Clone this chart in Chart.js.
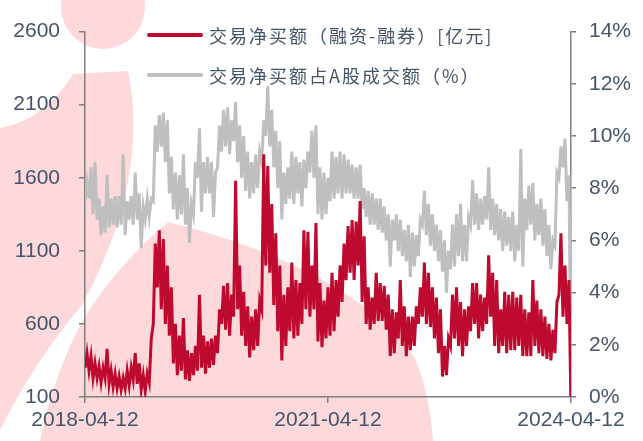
<!DOCTYPE html>
<html>
<head>
<meta charset="utf-8">
<script src="https://cdn.jsdelivr.net/npm/chart.js@4.4.1/dist/chart.umd.min.js"></script>
<style>
  html, body { margin: 0; padding: 0; background: #fff; }
  #wrap { width: 643px; height: 441px; }
</style>
</head>
<body>
<div id="wrap"><canvas id="chart" width="643" height="441"></canvas></div>
<script>
// ---- data (2018-04-12 .. 2024-04-12) ----
// the daily series is too dense to read day by day, so each period is
// given as the low / high of the band the line covers in that period
const dateTicks = ['2018-04-12', '2021-04-12', '2024-04-12'];
const seriesNames = ['交易净买额（融资-融券）[亿元]', '交易净买额占A股成交额（%）'];

// net buy amount, 亿元 (left axis)
const netBuyLow = [
    300, 280, 230, 230, 200, 230, 190, 170, 160, 150, 160, 180, 220, 190, 150, 140,
    200, 600, 850, 700, 600, 520, 330, 250, 280, 220, 210, 250, 280, 300, 260, 300,
    320, 400, 600, 560, 520, 650, 700, 520, 450, 370, 420, 450, 700, 1000, 950, 730,
    550, 350, 450, 550, 500, 520, 600, 700, 650, 700, 480, 440, 500, 520, 550, 650,
    750, 900, 950, 900, 1000, 750, 600, 560, 600, 620, 620, 560, 380, 400, 500, 450,
    380, 420, 450, 600, 650, 600, 580, 500, 400, 240, 250, 450, 500, 450, 380, 450,
    550, 600, 500, 550, 600, 650, 450, 400, 450, 400, 420, 420, 450, 380, 380, 380,
    450, 400, 380, 360, 350, 400, 800, 650, 600, 0
];
const netBuyHigh = [
    400, 380, 330, 310, 300, 430, 280, 260, 240, 230, 280, 300, 400, 330, 250, 260,
    500, 1150, 1240, 1180, 1000, 850, 600, 520, 640, 420, 400, 450, 800, 520, 480, 500,
    520, 700, 860, 880, 800, 1580, 1000, 820, 720, 650, 700, 760, 1760, 1680, 1420, 1220,
    1000, 800, 850, 1020, 900, 880, 1240, 1230, 1000, 1290, 880, 760, 850, 950, 900, 1000,
    1150, 1270, 1310, 1300, 1440, 1200, 850, 780, 950, 880, 860, 800, 700, 680, 900, 720,
    650, 650, 720, 850, 1020, 950, 850, 780, 700, 450, 500, 800, 850, 750, 700, 720,
    880, 880, 800, 780, 1070, 950, 900, 700, 820, 800, 820, 780, 800, 700, 680, 900,
    760, 700, 650, 600, 560, 750, 1220, 1000, 900, 0
];

// share of A-share turnover, % (right axis)
const ratioLow = [
    7.5, 7.6, 7.0, 6.8, 6.2, 6.3, 6.5, 6.6, 6.5, 6.6, 6.2, 6.8, 6.6, 6.8, 5.7, 6.8,
    6.9, 7.5, 9.4, 9.6, 9.0, 7.8, 7.2, 6.8, 7.0, 6.6, 5.9, 7.0, 8.4, 7.1, 7.8, 7.8,
    6.9, 8.8, 9.4, 9.6, 9.3, 9.8, 9.0, 8.4, 7.9, 7.6, 7.8, 8.0, 9.0, 10.0, 9.6, 8.8,
    8.0, 6.8, 7.4, 7.6, 7.4, 7.8, 7.3, 8.0, 8.6, 8.4, 7.0, 6.8, 7.0, 7.5, 7.6, 7.8,
    7.6, 7.8, 7.8, 7.6, 7.6, 7.2, 6.9, 6.6, 6.6, 6.4, 6.3, 6.0, 5.0, 6.0, 5.6, 5.4,
    5.2, 4.6, 5.0, 5.4, 6.6, 6.2, 5.8, 5.6, 5.2, 4.8, 4.0, 4.9, 5.0, 5.4, 5.2, 5.2,
    6.6, 6.6, 6.4, 6.6, 6.8, 6.4, 6.2, 6.0, 5.6, 5.8, 5.6, 5.2, 5.6, 5.0, 6.4, 6.6,
    6.0, 6.2, 5.8, 5.4, 4.9, 5.8, 8.4, 8.8, 7.5, 0
];
const ratioHigh = [
    8.2, 8.8, 9.0, 7.6, 7.3, 8.5, 7.6, 7.7, 7.7, 9.3, 7.5, 7.7, 8.6, 7.8, 7.3, 7.6,
    7.6, 10.4, 10.8, 10.9, 10.6, 9.2, 8.6, 8.5, 9.3, 8.0, 7.4, 9.0, 10.3, 9.0, 9.2, 9.0,
    8.6, 10.4, 11.0, 11.1, 10.6, 11.3, 10.4, 10.0, 9.4, 9.0, 9.3, 9.4, 10.6, 11.9, 11.0, 10.2,
    9.8, 8.6, 8.8, 9.4, 9.2, 9.0, 9.1, 9.4, 10.2, 10.4, 8.8, 8.6, 8.4, 9.4, 9.2, 9.4,
    9.3, 9.1, 8.9, 8.8, 8.9, 8.0, 7.9, 7.8, 7.6, 7.6, 7.3, 7.0, 6.8, 7.0, 6.8, 6.4,
    6.6, 6.3, 6.2, 6.8, 7.9, 7.4, 7.0, 6.6, 6.4, 6.0, 5.6, 6.6, 7.0, 7.4, 6.6, 6.9,
    8.3, 7.8, 7.6, 7.7, 8.8, 7.6, 7.4, 7.2, 7.1, 6.9, 7.1, 6.6, 9.5, 7.6, 8.1, 8.2,
    7.4, 7.6, 7.2, 6.6, 6.0, 8.6, 9.6, 9.9, 8.5, 0
];

const RED = '#be0a2e';
const GREY = '#bfbfbf';
const AXIS = '#7f7f7f';
const TEXT = '#44546a';
const PINK = '#fdd9db';
const lastIdx = netBuyLow.length - 1;

// each period gives a low point then a high point, so the line fills its band
function bandPoints(low, high) {
    const pts = [];
    low.forEach((v, i) => {
        pts.push({ x: i, y: v });
        pts.push({ x: i + 0.5, y: high[i] });
    });
    return pts;
}

// pink logo watermark behind everything
const watermark = {
    id: 'watermark',
    beforeDraw(chart) {
        const ctx = chart.ctx;
        ctx.save();
        ctx.fillStyle = PINK;
        // dot
        ctx.beginPath();
        ctx.arc(103, 7, 42, 0, Math.PI * 2);
        ctx.fill();
        // left arc band
        ctx.beginPath();
        ctx.moveTo(73, 74);
        ctx.lineTo(128, 71);
        ctx.quadraticCurveTo(150, 180, 82, 305);
        ctx.quadraticCurveTo(35, 360, 0, 430);
        ctx.lineTo(0, 128);
        ctx.quadraticCurveTo(45, 120, 73, 74);
        ctx.closePath();
        ctx.fill();
        // big lower shape
        ctx.beginPath();
        ctx.moveTo(40, 441);
        ctx.quadraticCurveTo(55, 370, 84, 318);
        ctx.quadraticCurveTo(120, 262, 168, 222);
        ctx.quadraticCurveTo(340, 265, 410, 350);
        ctx.quadraticCurveTo(428, 380, 433, 441);
        ctx.closePath();
        ctx.fill();
        ctx.restore();
    }
};

// legend drawn inside the plot, two rows
const insideLegend = {
    id: 'insideLegend',
    afterDatasetsDraw(chart) {
        const ctx = chart.ctx;
        const rows = [
            { y: 35, color: RED, text: seriesNames[0] },
            { y: 75, color: GREY, text: seriesNames[1] }
        ];
        ctx.save();
        ctx.font = '18px "Noto Sans CJK SC", sans-serif';
        ctx.letterSpacing = '2px';
        ctx.textBaseline = 'middle';
        rows.forEach(r => {
            ctx.strokeStyle = r.color;
            ctx.lineWidth = 4;
            ctx.lineCap = 'round';
            ctx.beginPath();
            ctx.moveTo(149, r.y);
            ctx.lineTo(201, r.y);
            ctx.stroke();
            ctx.fillStyle = TEXT;
            ctx.fillText(r.text, 209, r.y + 1);
        });
        ctx.restore();
    }
};

const tickFont = { family: '"Liberation Sans", Arial, sans-serif', size: 21 };

new Chart(document.getElementById('chart'), {
    type: 'line',
    data: {
        datasets: [
            {
                label: seriesNames[0],
                data: bandPoints(netBuyLow, netBuyHigh),
                yAxisID: 'y',
                borderColor: RED,
                borderWidth: 3,
                pointRadius: 0,
                tension: 0
            },
            {
                label: seriesNames[1],
                data: bandPoints(ratioLow, ratioHigh),
                yAxisID: 'y1',
                borderColor: GREY,
                borderWidth: 3,
                pointRadius: 0,
                tension: 0
            }
        ]
    },
    options: {
        responsive: false,
        animation: false,
        layout: { padding: { top: 25, left: 0, right: 0, bottom: 0 } },
        plugins: {
            legend: { display: false },
            tooltip: { enabled: false }
        },
        scales: {
            x: {
                type: 'linear',
                min: 0,
                max: lastIdx,
                afterBuildTicks: s => {
                    s.ticks = [{ value: 0 }, { value: lastIdx / 2 }, { value: lastIdx }];
                },
                afterFit: s => { s.height = 44; },
                grid: { drawOnChartArea: false, color: AXIS, lineWidth: 1.5, tickLength: 6 },
                border: { color: AXIS, width: 1.5 },
                ticks: {
                    color: TEXT,
                    font: tickFont,
                    padding: 5,
                    maxRotation: 0,
                    autoSkip: false,
                    callback: (v, i) => dateTicks[i]
                }
            },
            y: {
                position: 'left',
                min: 100,
                max: 2600,
                afterFit: s => { s.width = 85; },
                grid: { drawOnChartArea: false, color: AXIS, lineWidth: 1.5, tickLength: 6 },
                border: { color: AXIS, width: 1.5 },
                ticks: { stepSize: 500, color: TEXT, font: tickFont, padding: 19, callback: v => String(v) }
            },
            y1: {
                position: 'right',
                min: 0,
                max: 14,
                afterFit: s => { s.width = 72; },
                grid: { drawOnChartArea: false, color: AXIS, lineWidth: 1.5, tickLength: 5 },
                border: { color: AXIS, width: 1.5 },
                ticks: { stepSize: 2, color: TEXT, font: tickFont, padding: 13, callback: v => v + '%' }
            }
        }
    },
    plugins: [watermark, insideLegend]
});
</script>
</body>
</html>
